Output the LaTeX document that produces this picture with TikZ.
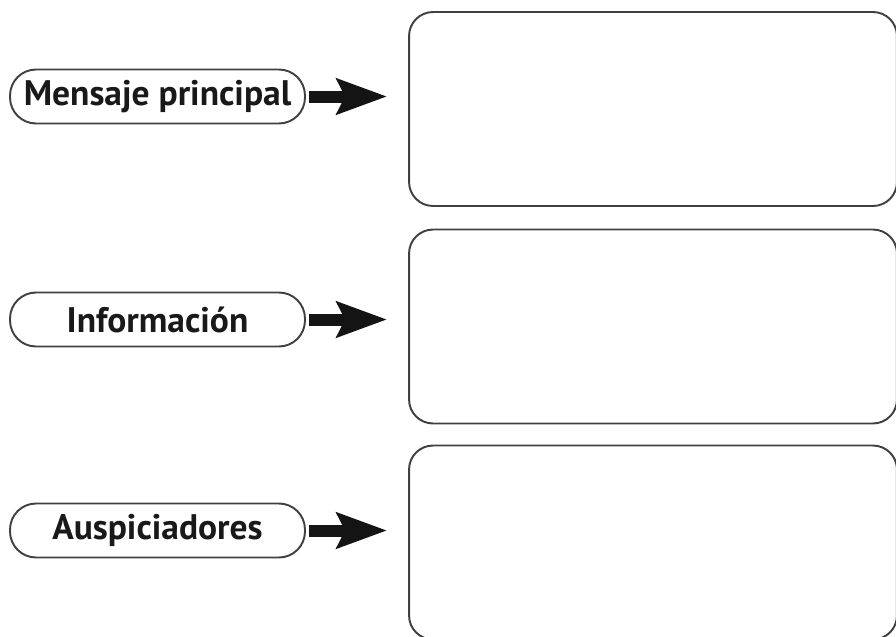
\documentclass[tikz,border=0pt]{standalone}
\usepackage{fontspec}
\setmainfont{PT Sans}
\usetikzlibrary{arrows.meta}
\definecolor{edgegray}{HTML}{404040}
\begin{document}
\begin{tikzpicture}[x=0.02cm,y=-0.02cm,
    pill/.style={draw=edgegray,line width=1.1pt,rounded corners=0.52cm,
      minimum width=5.9cm,minimum height=1.08cm,inner sep=0pt,
      font=\fontsize{20.2}{23}\selectfont\bfseries,text=black!90},
    answer/.style={draw=edgegray,line width=1.1pt,rounded corners=0.48cm,
      minimum width=9.76cm,minimum height=3.88cm,inner sep=0pt},
    bigarrow/.style={line width=0.24cm,black!92,
      -{Stealth[length=1cm,width=0.7cm,inset=0.16cm]},
      shorten <=0.06cm,shorten >=0.42cm}]
    \useasboundingbox (0,0) rectangle (896,636);
    % labels on the left
    \node[pill] (mensaje) at (157.5,96.5) {Mensaje principal};
    \node[pill] (info) at (157.5,319.5) {Información};
    \node[pill] (ausp) at (157.5,530.5) {Auspiciadores};
    % empty boxes on the right
    \node[answer] (b1) at (653,109) {};
    \node[answer] (b2) at (653,326.5) {};
    \node[answer] (b3) at (653,542.5) {};
    \foreach \a/\b in {mensaje/b1,info/b2,ausp/b3}{
      \draw[bigarrow] (\a.east) -- (\a.east -| \b.west);
    }
  \end{tikzpicture}
\end{document}
